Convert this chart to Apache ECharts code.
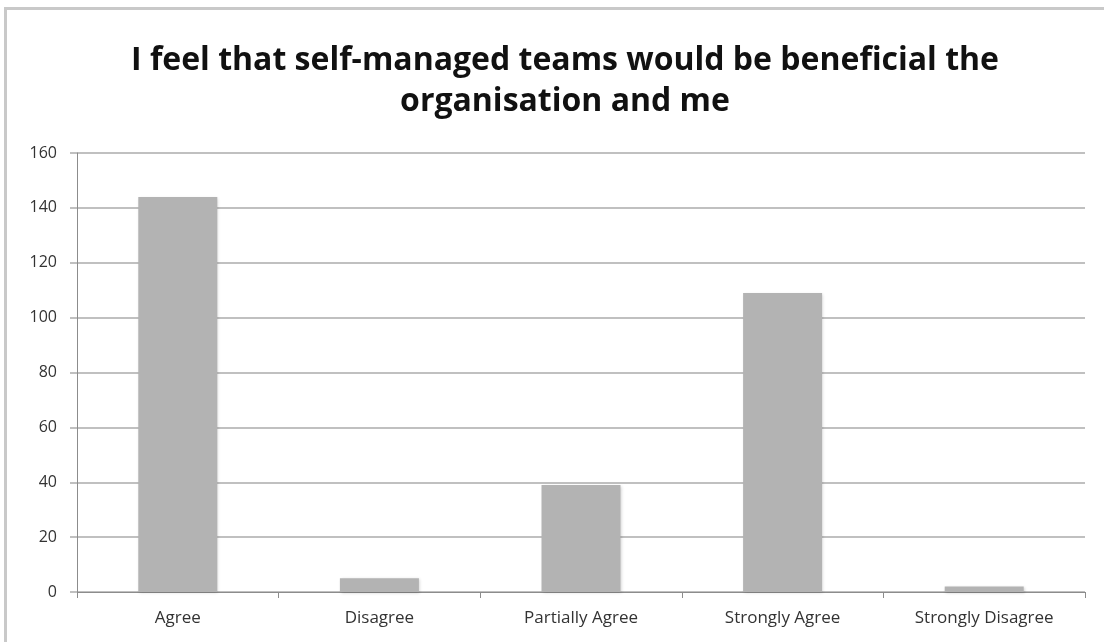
<!DOCTYPE html>
<html>
<head>
<meta charset="utf-8">
<script src="https://cdn.jsdelivr.net/npm/echarts@6/dist/echarts.min.js"></script>
<style>
  html, body { margin: 0; padding: 0; background: #fff; overflow: hidden; }
  #frame { position: absolute; left: 4px; top: 7px; width: 1110px; height: 650px;
           border: 3px solid #c9c9c9; box-sizing: border-box; }
  #chart { position: absolute; left: 0; top: 0; width: 1104px; height: 642px; }
</style>
</head>
<body>
<div id="frame"></div>
<div id="chart"></div>
<script>
// Survey responses
const categories = ['Agree', 'Disagree', 'Partially Agree', 'Strongly Agree', 'Strongly Disagree'];
const responses = [144, 5, 39, 109, 2];
const yTicks = { min: 0, max: 160, interval: 20 };
const titleLines = ['I feel that self-managed teams would be beneficial the', 'organisation and me'];

const chart = echarts.init(document.getElementById('chart'), null, { renderer: 'canvas' });
chart.setOption({
  animation: false,
  backgroundColor: 'transparent',
  title: {
    text: titleLines.join('\n'),
    left: 560,
    textAlign: 'center',
    top: 35,
    textStyle: {
      fontFamily: 'Open Sans',
      fontWeight: 'bold',
      fontSize: 32,
      lineHeight: 41,
      color: '#111'
    }
  },
  grid: { left: 77, right: 19, top: 153, bottom: 50 },
  xAxis: {
    type: 'category',
    data: categories,
    axisLine: { lineStyle: { color: '#8c8c8c', width: 1 } },
    axisTick: { show: true, length: 6, interval: 0, lineStyle: { color: '#8c8c8c' } },
    axisLabel: { interval: 0, margin: 18, fontFamily: 'Open Sans', fontSize: 17, color: '#333' }
  },
  yAxis: {
    type: 'value',
    min: yTicks.min,
    max: yTicks.max,
    interval: yTicks.interval,
    axisLine: { show: true, lineStyle: { color: '#8c8c8c', width: 1 } },
    axisTick: { show: true, length: 7, lineStyle: { color: '#c0c0c0', width: 2 } },
    splitLine: { lineStyle: { color: '#c0c0c0', width: 2 } },
    axisLabel: { margin: 20, fontFamily: 'Open Sans', fontSize: 16, color: '#333' }
  },
  series: [{
    type: 'bar',
    data: responses,
    barWidth: 79,
    itemStyle: {
      color: '#b3b3b3',
      shadowColor: 'rgba(0,0,0,0.18)',
      shadowBlur: 3,
      shadowOffsetX: 1,
      shadowOffsetY: 1
    }
  }]
});
</script>
</body>
</html>
